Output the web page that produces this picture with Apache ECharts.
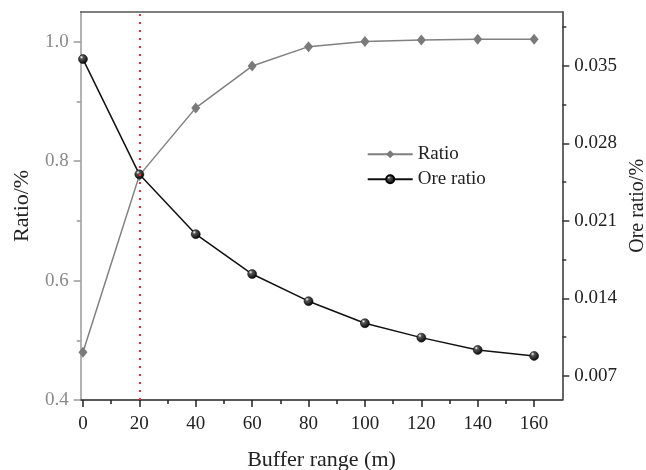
<!DOCTYPE html>
<html>
<head>
<meta charset="utf-8">
<title>Buffer range</title>
<script src="https://cdn.jsdelivr.net/npm/echarts@6/dist/echarts.min.js"></script>
<style>
  html, body { margin: 0; padding: 0; background: #fff; }
  #chart { width: 646px; height: 470px; }
</style>
</head>
<body>
<div id="chart"></div>
<script>
// Buffer range (m) and the two measured ratios
const bufferRange = [0, 20, 40, 60, 80, 100, 120, 140, 160];
const ratio = [0.48, 0.776, 0.889, 0.959, 0.9915, 1.0, 1.0028, 1.004, 1.004];
const oreRatio = [0.0356, 0.0252, 0.0198, 0.0162, 0.01375, 0.01176, 0.01046, 0.00935, 0.00881];

// Tick positions
const xTicks = [0, 20, 40, 60, 80, 100, 120, 140, 160];
const xMinorTicks = [10, 30, 50, 70, 90, 110, 130, 150];
const ratioTicks = [0.4, 0.6, 0.8, 1.0];
const ratioMinorTicks = [0.5, 0.7, 0.9];
const oreTicks = [0.007, 0.014, 0.021, 0.028, 0.035];
const oreMinorTicks = [0.0105, 0.0175, 0.0245, 0.0315, 0.0385];

// Marked buffer distance
const markedBuffer = 20;

const FONT = "'Times New Roman', 'Liberation Serif', serif";
const X_RANGE = [-0.8, 170];
const RATIO_RANGE = [0.4, 1.05];
const ORE_RANGE = [0.00483, 0.03988];

const chart = echarts.init(document.getElementById('chart'), null, { renderer: 'canvas' });

// extra axes that only carry the short minor ticks
function minorTickAxis(position, range, values, color) {
  return {
    type: 'value',
    position: position,
    min: range[0],
    max: range[1],
    axisLine: { show: false, onZero: false },
    axisLabel: { show: false },
    splitLine: { show: false },
    axisTick: { show: true, inside: false, length: 4, customValues: values, lineStyle: { color: color, width: 1.5 } }
  };
}

const option = {
  animation: false,
  backgroundColor: '#ffffff',
  grid: { left: 80.7, right: 83.7, top: 11.7, bottom: 70, containLabel: false, outerBoundsMode: 'none' },
  legend: {
    orient: 'vertical',
    left: 366.7,
    top: 144.7,
    padding: 0,
    itemWidth: 45,
    itemHeight: 10,
    itemGap: 6,
    data: ['Ratio', 'Ore ratio'],
    textStyle: { fontFamily: FONT, fontSize: 19, color: '#222' }
  },
  xAxis: [
    {
      type: 'value',
      position: 'bottom',
      min: X_RANGE[0],
      max: X_RANGE[1],
      name: 'Buffer range (m)',
      nameLocation: 'middle',
      nameGap: 49,
      nameTextStyle: { fontFamily: FONT, fontSize: 22, color: '#222' },
      axisLine: { onZero: false, lineStyle: { color: '#222', width: 1.5 } },
      axisTick: { show: true, inside: false, length: 7, customValues: xTicks, lineStyle: { color: '#222', width: 1.5 } },
      axisLabel: { customValues: xTicks, margin: 15, fontFamily: FONT, fontSize: 19, color: '#222' },
      splitLine: { show: false }
    },
    minorTickAxis('bottom', X_RANGE, xMinorTicks, '#222'),
    {
      // top frame line
      type: 'value',
      position: 'top',
      min: X_RANGE[0],
      max: X_RANGE[1],
      axisLine: { show: true, onZero: false, lineStyle: { color: '#555', width: 1.5 } },
      axisTick: { show: false },
      axisLabel: { show: false },
      splitLine: { show: false }
    }
  ],
  yAxis: [
    {
      type: 'value',
      position: 'left',
      min: RATIO_RANGE[0],
      max: RATIO_RANGE[1],
      name: 'Ratio/%',
      nameLocation: 'middle',
      nameRotate: 90,
      nameGap: 47,
      nameTextStyle: { fontFamily: FONT, fontSize: 22, color: '#222' },
      axisLine: { show: true, onZero: false, lineStyle: { color: '#999', width: 1.5 } },
      axisTick: { show: true, inside: false, length: 7, customValues: ratioTicks, lineStyle: { color: '#999', width: 1.5 } },
      axisLabel: {
        customValues: ratioTicks, margin: 12, fontFamily: FONT, fontSize: 19, color: '#8a8a8a',
        formatter: v => v.toFixed(1)
      },
      splitLine: { show: false }
    },
    {
      type: 'value',
      position: 'right',
      min: ORE_RANGE[0],
      max: ORE_RANGE[1],
      name: 'Ore ratio/%',
      nameLocation: 'middle',
      nameRotate: 90,
      nameGap: 63,
      nameTextStyle: { fontFamily: FONT, fontSize: 20, color: '#222' },
      axisLine: { show: true, onZero: false, lineStyle: { color: '#333', width: 1.5 } },
      axisTick: { show: true, inside: false, length: 7, customValues: oreTicks, lineStyle: { color: '#333', width: 1.5 } },
      axisLabel: {
        customValues: oreTicks, margin: 12, fontFamily: FONT, fontSize: 19, color: '#222',
        formatter: v => v.toFixed(3)
      },
      splitLine: { show: false }
    },
    minorTickAxis('left', RATIO_RANGE, ratioMinorTicks, '#999'),
    minorTickAxis('right', ORE_RANGE, oreMinorTicks, '#333')
  ],
  series: [
    {
      name: 'Ratio',
      type: 'line',
      xAxisIndex: 0,
      yAxisIndex: 0,
      data: bufferRange.map((x, i) => [x, ratio[i]]),
      symbol: 'diamond',
      symbolSize: [9, 11],
      lineStyle: { color: '#808080', width: 1.5 },
      itemStyle: { color: '#7a7a7a' },
      emphasis: { disabled: true },
      markLine: {
        silent: true,
        symbol: ['none', 'none'],
        label: { show: false },
        lineStyle: { color: '#ff2b2b', type: [2, 6], width: 2 },
        data: [{ xAxis: markedBuffer }]
      },
      z: 2
    },
    {
      name: 'Ore ratio',
      type: 'line',
      xAxisIndex: 0,
      yAxisIndex: 1,
      data: bufferRange.map((x, i) => [x, oreRatio[i]]),
      symbol: 'circle',
      symbolSize: 9,
      lineStyle: { color: '#111', width: 1.5 },
      itemStyle: {
        color: new echarts.graphic.RadialGradient(0.35, 0.3, 0.75, [
          { offset: 0, color: '#ffffff' },
          { offset: 0.25, color: '#555555' },
          { offset: 1, color: '#000000' }
        ]),
        borderColor: '#000',
        borderWidth: 0.5
      },
      emphasis: { disabled: true },
      z: 3
    }
  ]
};

chart.setOption(option);
</script>
</body>
</html>
